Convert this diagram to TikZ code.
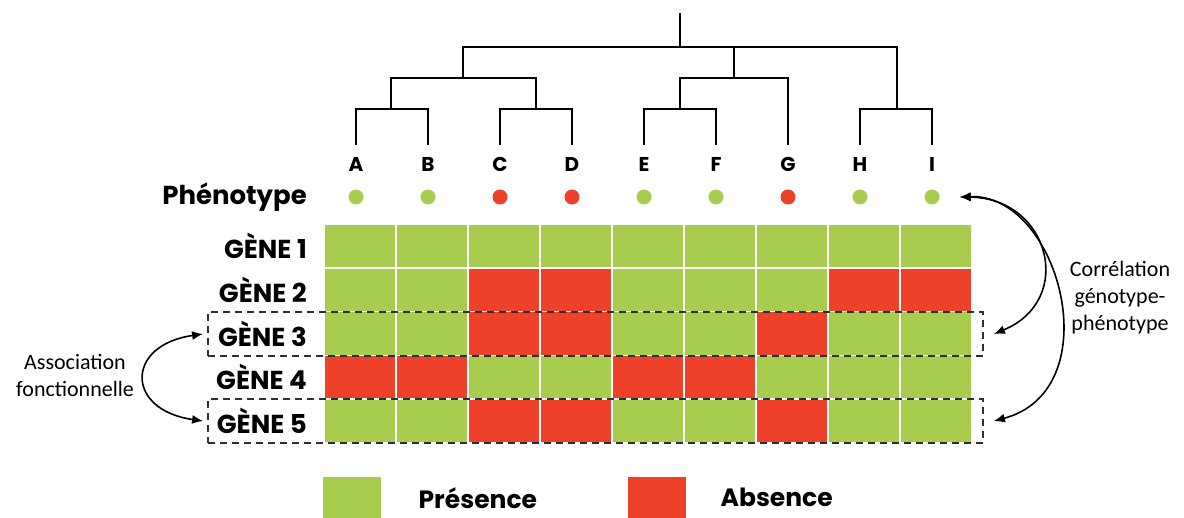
\documentclass[tikz,border=0pt]{standalone}
\usepackage{fontspec}
\setmainfont{Carlito}
\newfontfamily\geo{Poppins}
\usetikzlibrary{positioning, arrows.meta}

\definecolor{pres}{HTML}{A8CD4E}
\definecolor{abs}{HTML}{EE4129}
\definecolor{navy}{HTML}{2B2E40}

\begin{document}
\begin{tikzpicture}[x = 1pt, y = -1pt, > = {Latex[length = 11pt, width = 9pt]},
	branch/.style = {line width = 1.5pt},
	cell/.style = {draw = white, line width = 1.6pt},
	rowlabel/.style = {anchor = east, inner sep = 0pt, font = \geo\bfseries\fontsize{26}{30}\selectfont},
	leaf/.style = {inner sep = 0pt, font = \geo\bfseries\fontsize{20}{24}\selectfont},
	dot/.style = {circle, inner sep = 0pt, minimum size = 15pt},
	dashbox/.style = {draw = navy, dash pattern = on 7pt off 5pt, line width = 1.8pt, minimum width = 775pt, minimum height = 44pt, inner sep = 0pt},
	legbox/.style = {minimum width = 58pt, minimum height = 41pt, inner sep = 0pt, anchor = north west},
	legtext/.style = {inner sep = 0pt, font = \geo\bfseries\fontsize{25}{30}\selectfont},
	side/.style = {align = center, font = \fontsize{22}{27}\selectfont},
	link/.style = {<->, line width = 1.6pt}]

\useasboundingbox (0, 0) rectangle (1184, 518);

% dendrogram
\draw [branch] (680, 13) -- (680, 47);
\draw [branch] (463, 78) -- (463, 47) -- (897, 47) -- (897, 109);
\draw [branch] (734, 47) -- (734, 78);
\draw [branch] (391, 109) -- (391, 78) -- (536, 78) -- (536, 109);
\draw [branch] (680, 109) -- (680, 78) -- (788, 78) -- (788, 145);
\draw [branch] (356, 145) -- (356, 109) -- (428, 109) -- (428, 145);
\draw [branch] (500, 145) -- (500, 109) -- (572, 109) -- (572, 145);
\draw [branch] (644, 145) -- (644, 109) -- (716, 109) -- (716, 145);
\draw [branch] (860, 145) -- (860, 109) -- (932, 109) -- (932, 145);

% leaves and phenotype
\foreach \name/\col [count = \i from 0] in {A/pres, B/pres, C/abs, D/abs, E/pres, F/pres, G/abs, H/pres, I/pres} {
	\node [leaf] (l\name) at (356 + 72*\i, 164) {\name};
	\node [dot, fill = \col] (p\name) at (356 + 72*\i, 197) {};
}
\node [rowlabel] (phen) at (307, 197) {Phénotype};

% genes
\foreach \cols [count = \r] in {
	{pres, pres, pres, pres, pres, pres, pres, pres, pres},
	{pres, pres, abs, abs, pres, pres, pres, abs, abs},
	{pres, pres, abs, abs, pres, pres, abs, pres, pres},
	{abs, abs, pres, pres, abs, abs, pres, pres, pres},
	{pres, pres, abs, abs, pres, pres, abs, pres, pres}} {
	\node [rowlabel] (g\r) at (307, 224 + 43.8*\r - 21.9) {GÈNE \r};
	\foreach \c [count = \k from 0] in \cols
		\draw [cell, fill = \c] (324 + 72*\k, 224 + 43.8*\r - 43.8) rectangle ++(72, 43.8);
}

\node [dashbox] (box3) at (595.5, 334) {};
\node [dashbox] (box5) at (595.5, 421) {};

% legend
\node [legbox, fill = pres] (kpres) at (323, 477) {};
\node [legtext, right = 37pt of kpres] (tpres) {Présence};
\node [legbox, fill = abs] (kabs) at (628, 477) {};
\node [legtext, right = 34pt of kabs] (tabs) {Absence};

% side labels
\node [side] (assoc) at (75, 375) {Association\\fonctionnelle};
\node [side] (corr) at (1120, 298) {Corrélation\\génotype-\\phénotype};

\coordinate (tipI) at ([xshift = 20pt] pI.east);
\draw [link] ([xshift = -4pt] box3.west) .. controls +(-78, 11) and +(-78, -11) .. ([xshift = -4pt] box5.west);
\draw [link] (tipI) .. controls +(90, 1) and +(82, -34) .. ([xshift = 10pt] box3.east);
\draw [link] (tipI) .. controls +(100, -4) and +(117, -31) .. ([xshift = 10pt] box5.east);

\end{tikzpicture}
\end{document}
